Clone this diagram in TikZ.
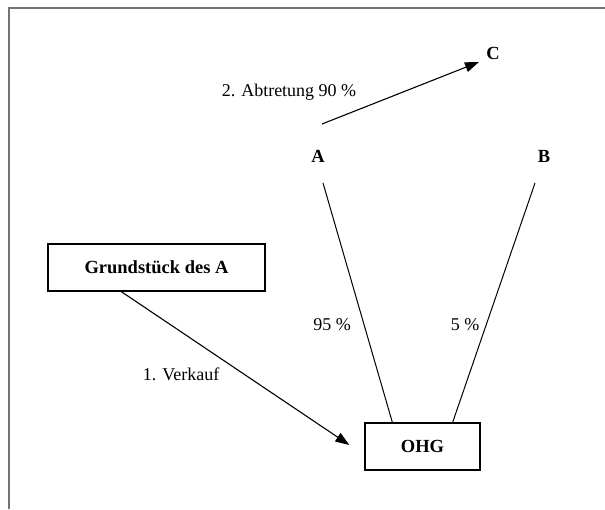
\documentclass[tikz,border=0pt]{standalone}
\usepackage{fontspec}
\setmainfont{Liberation Serif}
\usetikzlibrary{arrows.meta}

\begin{document}
\begin{tikzpicture}[x=1pt,y=-1pt,
font={\fontsize{18}{21}\selectfont},
box/.style={draw,line width=1.3pt,inner sep=0pt,font={\fontsize{18.5}{21}\selectfont\bfseries}},
party/.style={inner sep=0pt,font={\fontsize{18.5}{21}\selectfont\bfseries}},
lbl/.style={inner sep=0pt},
tip/.style={line width=1.1pt,-{Triangle[length=14pt,width=10pt]}}
]
\useasboundingbox (0,0) rectangle (605,509);
\draw[black!55,line width=2pt] (605,7.5) -- (8.5,7.5) -- (8.5,509);

\node[party] (C) at (493,53) {C};
\node[party] (A) at (318,156) {A};
\node[party] (B) at (544,156) {B};
\node[box,minimum width=217pt,minimum height=47pt] (grund) at (156.5,267.5) {Grundstück des A};
\node[box,minimum width=115pt,minimum height=47pt] (ohg) at (422.5,446.5) {OHG};

\node[lbl] (abtr) at (289,92) {2. Abtretung 90 \%};
\node[lbl] (verk) at (181,374) {1. Verkauf};
\node[lbl] (pa) at (332,325) {95 \%};
\node[lbl] (pb) at (465,325) {5 \%};

\draw[tip] ([shift={(4,-32)}]A.center) -- ([shift={(-14,9)}]C.center);
\draw[line width=1pt] ([shift={(5,27)}]A.center) -- ([xshift=28pt]ohg.north west);
\draw[line width=1pt] ([shift={(-9,27)}]B.center) -- ([xshift=-28pt]ohg.north east);
\draw[tip] ([xshift=74pt]grund.south west) -- ([shift={(-15,-1.5)}]ohg.west);
\end{tikzpicture}
\end{document}
